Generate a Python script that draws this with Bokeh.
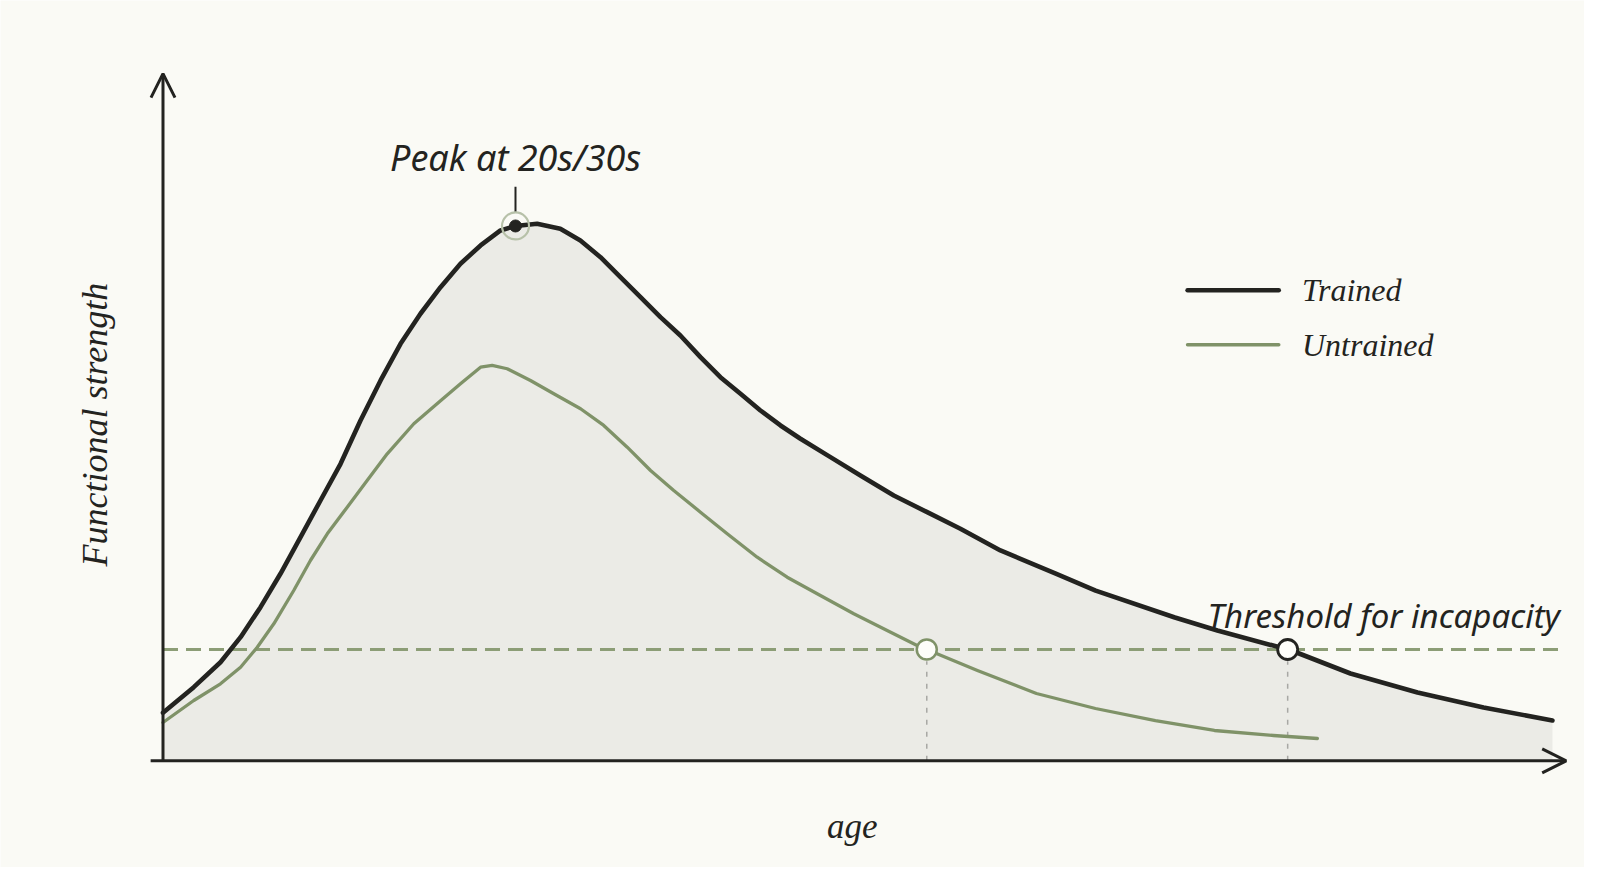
import numpy as np
from bokeh.plotting import figure
from bokeh.models import Arrow, OpenHead, Range1d
from bokeh.core.properties import value
from bokeh.embed import file_html
from bokeh.resources import INLINE

# ---------------- data ----------------
age_trained = [0, 1.99, 3.72, 5.02, 6.31, 7.60, 8.90, 10.19, 11.49, 12.78, 14.08, 15.37,
               16.66, 17.96, 19.25, 20.55, 21.84, 22.81, 24.21, 25.71, 27.01, 28.31,
               29.60, 30.90, 32.19, 33.48, 34.78, 36.07, 37.37, 38.66, 39.96, 41.25,
               43.19, 45.13, 47.29, 49.45, 51.60, 54.19, 57.81, 60.35, 65.48, 68.23,
               73.02, 76.84, 81.18, 85.45, 89.91]
strength_trained = [9.0, 13.80, 18.48, 23.17, 28.79, 35.05, 41.91, 48.79, 55.67, 63.79,
                    71.29, 78.16, 83.79, 88.77, 93.16, 96.59, 99.40, 100.24, 100.66,
                    99.72, 97.53, 94.39, 90.65, 86.90, 83.15, 79.72, 75.65, 71.90, 68.79,
                    65.66, 62.85, 60.36, 56.91, 53.48, 49.73, 46.60, 43.49, 39.42, 35.05,
                    31.90, 26.86, 24.42, 20.67, 16.36, 12.80, 9.99, 7.55]

age_untrained = [0, 1.99, 3.72, 5.02, 6.10, 7.17, 8.46, 9.54, 10.63, 11.92, 13.21, 14.51,
                 16.23, 17.96, 19.25, 20.55, 21.30, 22.27, 23.78, 25.29, 27.02, 28.52,
                 30.04, 31.55, 33.05, 34.78, 36.51, 38.45, 40.39, 42.54, 44.70, 46.86,
                 48.80, 52.70, 56.52, 60.34, 64.22, 68.04, 71.86, 74.70]
strength_untrained = [7.18, 11.30, 14.43, 17.54, 21.29, 25.68, 31.92, 37.54, 42.55, 47.54,
                      52.54, 57.54, 63.17, 67.48, 70.67, 73.78, 74.10, 73.48, 71.28, 68.79,
                      65.98, 62.85, 58.78, 54.41, 50.66, 46.60, 42.55, 38.16, 34.41, 30.98,
                      27.55, 24.42, 21.61, 16.92, 12.61, 9.80, 7.55, 5.68, 4.74, 4.18]

threshold = 20.86
peak_age = 22.81
peak_strength = 100.24

series_names = ["Trained", "Untrained"]
peak_label = "Peak at 20s/30s"
threshold_label = "Threshold for incapacity"
x_label = "age"
y_label = "Functional strength"

# ---------------- styles ----------------
BG = "#fafaf5"
FILL = "#ebebe6"
INK = "#232320"
GREEN = "#7f9268"
DASH_GREEN = "#8c9d76"
GRID_GREY = "#a8a8a4"
HALO = "#b7c1a9"
SERIF = "Liberation Serif"
HAND = "Noto Sans"

p = figure(width=1584, height=867, output_backend="svg", toolbar_location=None,
           x_range=Range1d(-10.515, 91.985), y_range=Range1d(-20.0, 142.5),
           min_border=0, background_fill_color=BG, border_fill_color=BG)
p.axis.visible = False
p.grid.visible = False
p.outline_line_color = None

# area under trained curve
p.varea(x=age_trained, y1=0, y2=strength_trained, fill_color=FILL)

# threshold
x_end = 90.4
p.line([0, x_end], [threshold, threshold], line_color=DASH_GREEN, line_width=3,
       line_dash="15 8")


def crossing(ages, vals, level, start_age):
    a = np.asarray(ages, float)
    v = np.asarray(vals, float)
    m = a >= start_age
    a, v = a[m], v[m]
    for i in range(len(a) - 1):
        if v[i] >= level >= v[i + 1]:
            t = (v[i] - level) / (v[i] - v[i + 1])
            return a[i] + t * (a[i + 1] - a[i])
    return None


cross_u = crossing(age_untrained, strength_untrained, threshold, 25)
cross_t = crossing(age_trained, strength_trained, threshold, 30)

# vertical dotted drop lines
for cx in (cross_u, cross_t):
    p.line([cx, cx], [0, threshold - 2.2], line_color=GRID_GREY, line_width=1.5,
           line_dash="5 7")

# curves
p.line(age_untrained, strength_untrained, line_color=GREEN, line_width=3.3,
       line_join="round", line_cap="round")
p.line(age_trained, strength_trained, line_color=INK, line_width=4.6,
       line_join="round", line_cap="round")

# axes with arrows
p.add_layout(Arrow(end=OpenHead(size=24, line_width=3, line_color=INK),
                   x_start=0, y_start=-0.2, x_end=0, y_end=128.8,
                   line_width=3, line_color=INK))
p.add_layout(Arrow(end=OpenHead(size=24, line_width=3, line_color=INK),
                   x_start=-0.8, y_start=0, x_end=90.8, y_end=0,
                   line_width=3, line_color=INK))

# crossing markers
p.scatter([cross_u], [threshold], size=20, fill_color="#fdfdf9", line_color=GREEN,
          line_width=2.5)
p.scatter([cross_t], [threshold], size=20, fill_color="#fdfdf9", line_color=INK,
          line_width=2.8)

# peak marker and annotation
p.line([peak_age, peak_age], [102.8, 107.6], line_color=INK, line_width=2)
p.scatter([peak_age], [peak_strength], size=27, fill_alpha=0, line_color=HALO,
          line_width=2.2)
p.scatter([peak_age], [peak_strength], size=12, fill_color=INK, line_color=INK)
p.text(x=[peak_age], y=[113.1], text=[peak_label], text_font=value(HAND),
       text_font_style="italic", text_font_size="36px", text_color=INK,
       text_align="center", text_baseline="alphabetic")
p.text(x=[x_end], y=[27.2], text=[threshold_label], text_font=value(HAND),
       text_font_style="italic", text_font_size="33px", text_color=INK,
       text_align="right", text_baseline="alphabetic")

# legend
leg_x0, leg_x1, leg_tx = 66.3, 72.2, 73.7
leg_y = [88.2, 78.0]
leg_colors = [INK, GREEN]
leg_widths = [4.5, 3.5]
for name, yy, c, w in zip(series_names, leg_y, leg_colors, leg_widths):
    p.line([leg_x0, leg_x1], [yy, yy], line_color=c, line_width=w, line_cap="round")
    p.text(x=[leg_tx], y=[yy], text=[name], text_font=value(SERIF),
           text_font_style="italic", text_font_size="32px", text_color=INK,
           text_align="left", text_baseline="middle")

# axis labels
p.text(x=[44.6], y=[-12.3], text=[x_label], text_font=value(SERIF),
       text_font_style="italic", text_font_size="35px", text_color=INK,
       text_align="center", text_baseline="middle")
p.text(x=[-4.4], y=[63.0], text=[y_label], text_font=value(SERIF),
       text_font_style="italic", text_font_size="36px", text_color=INK,
       text_align="center", text_baseline="middle", angle=np.pi / 2)

open("out.html", "w").write(file_html(p, INLINE))
